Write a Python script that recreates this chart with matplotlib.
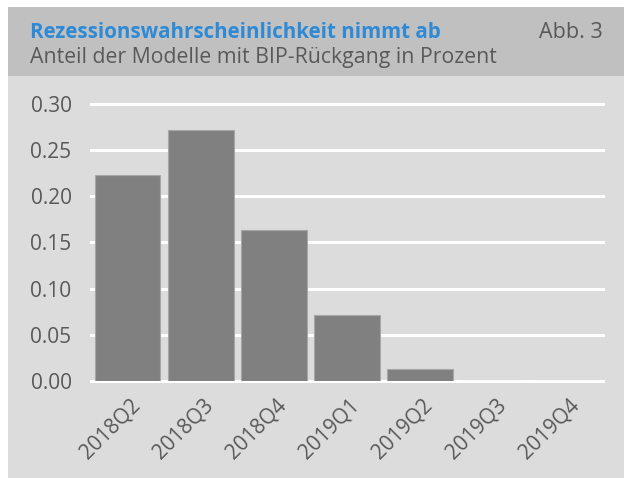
import matplotlib
matplotlib.use("Agg")
import matplotlib.pyplot as plt
from matplotlib.patches import Rectangle
from matplotlib.transforms import ScaledTranslation

# Daten
quartale = ["2018Q2", "2018Q3", "2018Q4", "2019Q1", "2019Q2", "2019Q3", "2019Q4"]
anteil = [0.223, 0.272, 0.164, 0.0715, 0.013, 0.0, 0.0]
y_ticks = [0.00, 0.05, 0.10, 0.15, 0.20, 0.25, 0.30]

titel = "Rezessionswahrscheinlichkeit nimmt ab"
untertitel = "Anteil der Modelle mit BIP-Rückgang in Prozent"
abb = "Abb. 3"

plt.rcParams["font.family"] = ["Open Sans", "DejaVu Sans"]

W, H = 624, 478
fig = plt.figure(figsize=(W / 100, H / 100), dpi=100, facecolor="white")

# Hintergrundflächen (Figurenkoordinaten)
fig.patches.append(Rectangle((8 / W, 0), 1 - 8 / W, 1 - 76 / H,
                             transform=fig.transFigure, facecolor="#dcdcdc",
                             edgecolor="none", zorder=-10))
fig.patches.append(Rectangle((8 / W, 1 - 76 / H), 1 - 8 / W, 69 / H,
                             transform=fig.transFigure, facecolor="#c0c0c0",
                             edgecolor="none", zorder=-10))

fig.text(30 / W, 1 - 32 / H, titel, color="#2f8ad6", fontsize=14.8,
         fontweight="bold", va="center", ha="left")
fig.text(30 / W, 1 - 57 / H, untertitel, color="#595959", fontsize=15.3,
         va="center", ha="left")
fig.text(603 / W, 1 - 32 / H, abb, color="#595959", fontsize=15.5,
         va="center", ha="right")

ax = fig.add_axes([91 / W, (H - 381) / H, 512 / W, 277 / H])
ax.set_facecolor("none")
x = range(len(quartale))
ax.bar(x, anteil, width=0.9, color="#808080", edgecolor="#a6a6a6",
       linewidth=0.8, zorder=3)
ax.set_xlim(-0.5, len(quartale) - 0.5)
ax.set_ylim(0, 0.30)
ax.set_yticks(y_ticks)
ax.set_yticklabels([f"{v:.2f}" for v in y_ticks])
for v in y_ticks:
    ax.axhline(v, color="white", linewidth=2.2, zorder=1, clip_on=False)
ax.set_xticks(list(x))
ax.set_xticklabels(quartale, rotation=45, ha="right", rotation_mode="anchor")
ax.tick_params(axis="both", length=0, labelsize=15, colors="#595959")
ax.tick_params(axis="y", pad=14)
ax.tick_params(axis="x", pad=10)
shift = ScaledTranslation(2 / 100, 0, fig.dpi_scale_trans)
for lab in ax.get_xticklabels():
    lab.set_transform(lab.get_transform() + shift)
for s in ax.spines.values():
    s.set_visible(False)

fig.savefig("out.png", dpi=100, facecolor="white")
